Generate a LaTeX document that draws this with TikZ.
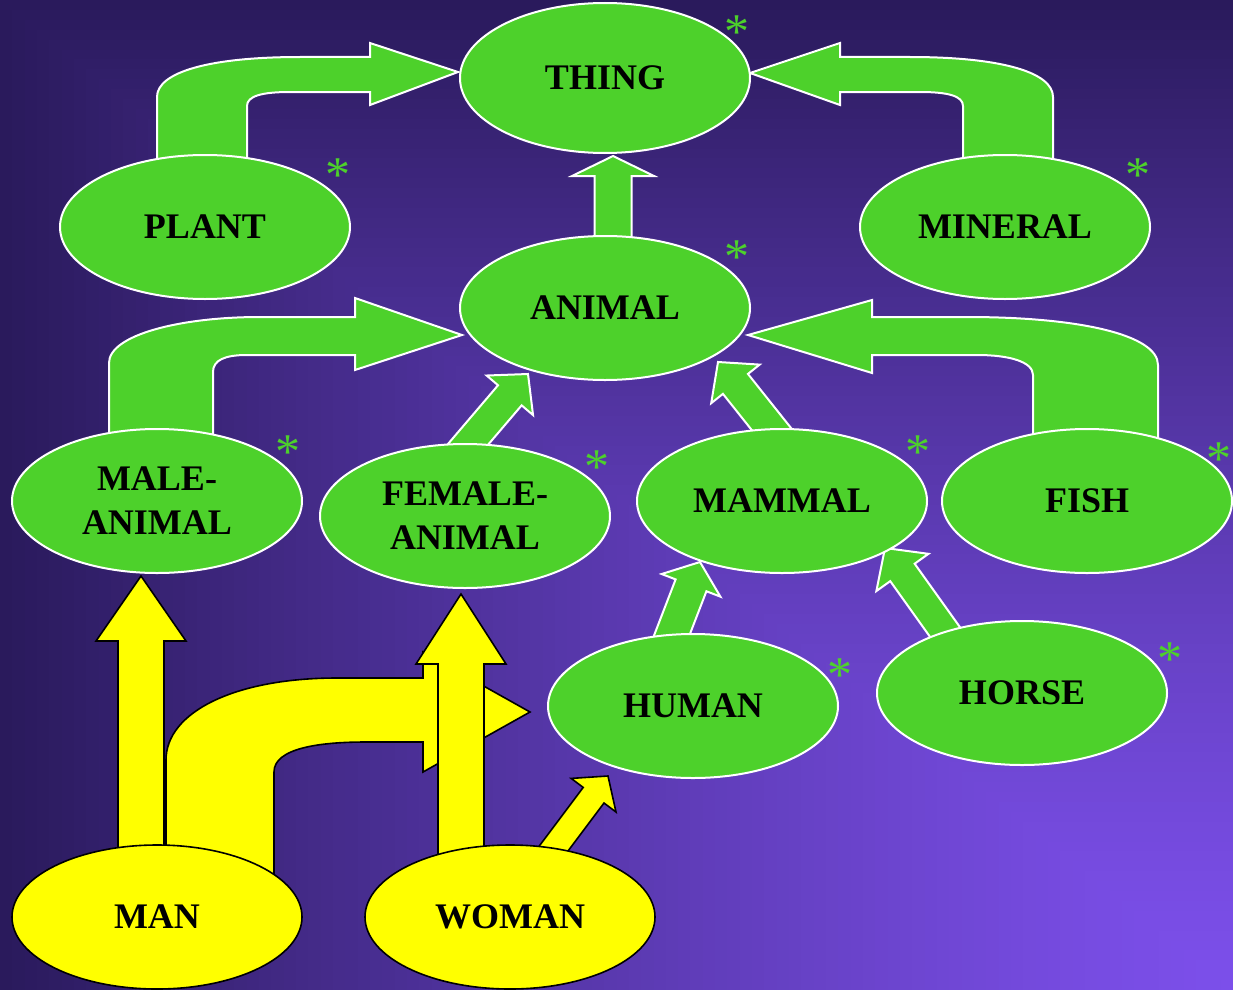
\documentclass[tikz,border=0pt]{standalone}
\usepackage{fontspec}
\setmainfont{Liberation Serif}
\usetikzlibrary{shapes.geometric, calc}
\definecolor{leafgreen}{HTML}{4DD12B}
\definecolor{sunyellow}{RGB}{255,255,0}
\definecolor{bgdark}{HTML}{2A1A5C}
\definecolor{bglight}{HTML}{7C4FEA}
\pgfdeclarelayer{backdrop}
\pgfdeclarelayer{links}
\pgfsetlayers{backdrop,links,main}
\newcommand{\labelfont}{\fontsize{36}{44}\selectfont\bfseries}
\newcommand{\starfont}{\fontsize{50}{50}\selectfont}
% block arrow: [style]{start}{tip}{shaft half width}{head half width}{head length}
\newcommand{\blockarrow}[6][greenarrow]{%
  \coordinate (ba-s) at #2;
  \coordinate (ba-t) at #3;
  \coordinate (ba-h) at ($(ba-t)!#6pt!(ba-s)$);
  \draw[#1] ($(ba-s)!#4pt!90:(ba-t)$) -- ($(ba-h)!#4pt!90:(ba-t)$) -- ($(ba-h)!#5pt!90:(ba-t)$)
    -- (ba-t) -- ($(ba-h)!#5pt!-90:(ba-t)$) -- ($(ba-h)!#4pt!-90:(ba-t)$) -- ($(ba-s)!#4pt!-90:(ba-t)$) -- cycle;}
\tikzset{
  concept/.style={ellipse, draw=white, line width=2pt, fill=leafgreen, minimum width=290pt,
    minimum height=144pt, inner sep=0pt, align=center, font=\labelfont},
  instance/.style={concept, draw=black, line width=1.6pt, fill=sunyellow},
  greenarrow/.style={fill=leafgreen, draw=white, line width=2pt},
  yellowarrow/.style={fill=sunyellow, draw=black, line width=1.6pt},
  starmark/.style={text=leafgreen, font=\starfont, anchor=north, inner sep=0pt}
}
\begin{document}
\begin{tikzpicture}[x=1pt, y=-1pt]
\useasboundingbox (0,0) rectangle (1233,990);

% gradient from the lower right corner
\begin{pgfonlayer}{backdrop}
  \foreach \i in {100,99,...,1}{
    \pgfmathsetmacro\mix{100*(\i/100)^1.3}
    \fill[bgdark!\mix!bglight] ({1233-12.33*\i},{990-9.9*\i}) rectangle (1233,990);
  }
\end{pgfonlayer}

% concepts
\node (thing) [concept, minimum height=150pt] at (605,78) {THING};
\node (plant) [concept] at (205,227) {PLANT};
\node (mineral) [concept] at (1005,227) {MINERAL};
\node (animal) [concept] at (605,308) {ANIMAL};
\node (maleanimal) [concept] at (157,501) {MALE-\\ANIMAL};
\node (femaleanimal) [concept] at (465,516) {FEMALE-\\ANIMAL};
\node (mammal) [concept] at (782,501) {MAMMAL};
\node (fish) [concept] at (1087,501) {FISH};
\node (human) [concept] at (693,706) {HUMAN};
\node (horse) [concept] at (1022,693) {HORSE};
\node (man) [instance] at (157,917) {MAN};
\node (woman) [instance] at (510,917) {WOMAN};

% asterisks
\node (thing-star) [starmark] at ($(thing)+(132,-62)$) {*};
\node (plant-star) [starmark] at ($(plant)+(133,-68)$) {*};
\node (mineral-star) [starmark] at ($(mineral)+(133,-68)$) {*};
\node (animal-star) [starmark] at ($(animal)+(132,-67)$) {*};
\node (maleanimal-star) [starmark] at ($(maleanimal)+(131,-65)$) {*};
\node (femaleanimal-star) [starmark] at ($(femaleanimal)+(132,-65)$) {*};
\node (mammal-star) [starmark] at ($(mammal)+(136,-65)$) {*};
\node (fish-star) [starmark] at ($(fish)+(132,-58)$) {*};
\node (human-star) [starmark] at ($(human)+(147,-47)$) {*};
\node (horse-star) [starmark] at ($(horse)+(148,-50)$) {*};

\begin{pgfonlayer}{links}
  % bent green arrows
  \draw[greenarrow] (157,175) -- (157,97) .. controls (157,72) and (210,57) .. (300,57) -- (370,57)
    -- (370,43) -- (458,72) -- (370,105) -- (370,92) -- (290,92) .. controls (262,92) and (247,96) .. (247,106) -- (247,175) -- cycle;
  \draw[greenarrow] (1053,175) -- (1053,97) .. controls (1053,72) and (1000,57) .. (910,57) -- (840,57)
    -- (840,43) -- (750,73) -- (840,105) -- (840,92) -- (920,92) .. controls (948,92) and (963,96) .. (963,106) -- (963,175) -- cycle;
  \draw[greenarrow] (109,450) -- (109,363) .. controls (109,335) and (180,317) .. (260,317) -- (355,317)
    -- (355,298) -- (462,335) -- (355,370) -- (355,355) -- (247,355) .. controls (225,355) and (213,360) .. (213,372) -- (213,450) -- cycle;
  \draw[greenarrow] (1158,455) -- (1158,365) .. controls (1158,335) and (1080,317) .. (967,317) -- (872,317)
    -- (872,300) -- (748,335) -- (872,373) -- (872,355) -- (977,355) .. controls (1010,355) and (1033,362) .. (1033,375) -- (1033,455) -- cycle;

  % straight green arrows
  \blockarrow{($(animal)+(8,-40)$)}{($(thing.south)+(8,2)$)}{18.5}{41}{20}
  \blockarrow{($(femaleanimal)+(-41,-20)$)}{($(animal)+(-77,66)$)}{15.5}{30.5}{28}
  \blockarrow{($(mammal)+(26,-26)$)}{($(animal)+(113,54)$)}{16}{31}{28}
  \blockarrow{($(human)+(-40,-22)$)}{($(mammal)+(-82,61)$)}{16.5}{31.5}{25}
  \blockarrow{($(horse)+(-62,-40)$)}{($(mammal)+(103,47)$)}{15}{32}{30}

  % yellow arrows
  \draw[yellowarrow] (166,890) -- (166,760) .. controls (166,712) and (235,678) .. (337,678) -- (423,678)
    -- (423,652) -- (530,712) -- (423,772) -- (423,742) -- (366,742) .. controls (320,742) and (274,748) .. (274,772) -- (274,890) -- cycle;
  \blockarrow[yellowarrow]{($(man)+(-16,-30)$)}{($(maleanimal.south)+(-16,2)$)}{23}{45}{65}
  \blockarrow[yellowarrow]{($(woman)+(-49,-30)$)}{($(femaleanimal.south)+(-4,5)$)}{23}{45}{70}
  \blockarrow[yellowarrow]{($(woman)+(32,-53)$)}{($(human)+(-85,70)$)}{13}{28}{24}
\end{pgfonlayer}
\end{tikzpicture}
\end{document}
